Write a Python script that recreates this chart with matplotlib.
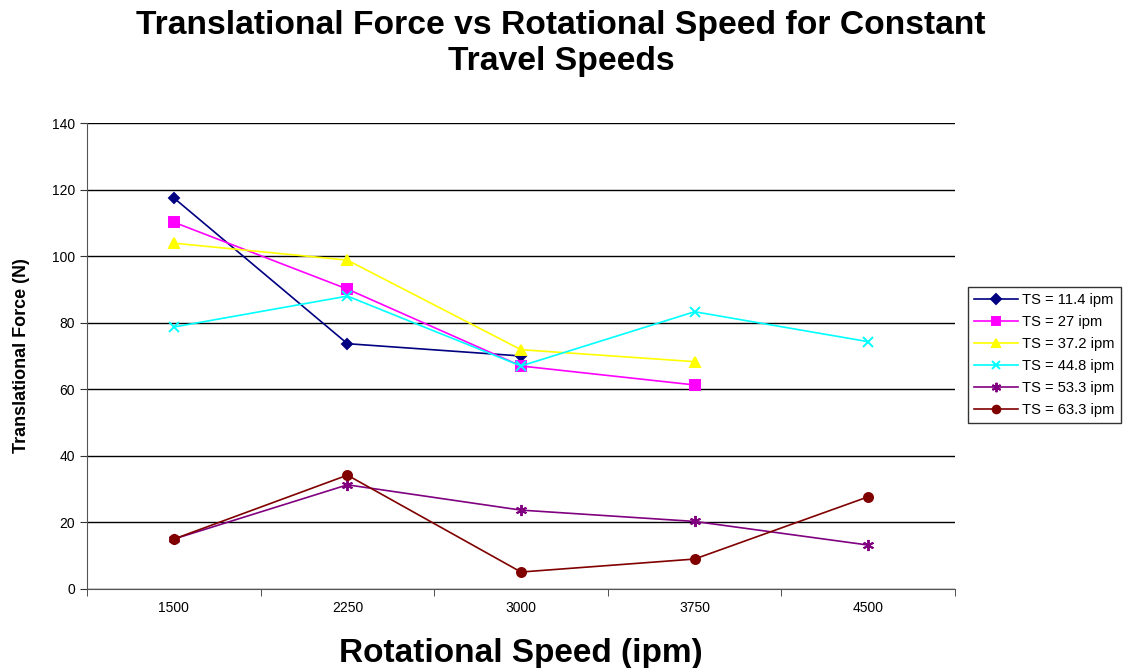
import numpy as np
import matplotlib
matplotlib.use("Agg")
from matplotlib import pyplot as plt

plt.rcParams['font.family'] = ['Liberation Sans', 'DejaVu Sans']

speeds = ["1500", "2250", "3000", "3750", "4500"]
ts_11_4 = [117.5, 73.7, 70.0]
ts_27 = [110.2, 90.1, 67.0, 61.3]
ts_37_2 = [103.9, 98.8, 71.9, 68.3]
ts_44_8 = [78.7, 88.0, 67.0, 83.3, 74.3]
ts_53_3 = [15.0, 31.3, 23.7, 20.3, 13.2]
ts_63_3 = [15.0, 34.2, 5.1, 9.0, 27.7]

series = [
    ("TS = 11.4 ipm", ts_11_4, "#000080", "D", 5.5),
    ("TS = 27 ipm", ts_27, "#FF00FF", "s", 6.5),
    ("TS = 37.2 ipm", ts_37_2, "#FFFF00", "^", 7),
    ("TS = 44.8 ipm", ts_44_8, "#00FFFF", "x", 7),
    ("TS = 53.3 ipm", ts_53_3, "#800080", (6, 2, 0), 8),
    ("TS = 63.3 ipm", ts_63_3, "#800000", "o", 6.5),
]

fig = plt.figure(figsize=(11.29, 6.68), dpi=100)
ax = fig.add_axes([87/1129, 1-589/668, 868/1129, 466/668])

for name, vals, col, mk, ms in series:
    x = np.arange(len(vals))
    ax.plot(x, vals, color=col, lw=1.2, marker=mk, ms=ms,
            mec=col, mfc=col, mew=1.4, label=name)

ax.set_xlim(-0.5, 4.5)
ax.set_ylim(0, 140)
ax.set_yticks(np.arange(0, 141, 20))
ax.set_xticks(np.arange(len(speeds)))
ax.set_xticklabels(speeds)
ax.set_xticks(np.arange(-0.5, 4.6, 1), minor=True)
ax.tick_params(axis='x', which='major', length=0, pad=9, labelsize=10)
ax.tick_params(axis='x', which='minor', length=5, direction='out', color='#333333')
ax.tick_params(axis='y', length=5, direction='out', labelsize=10, color='#333333')
ax.yaxis.grid(True, color='black', lw=1)
ax.set_axisbelow(True)
for s in ['top', 'right']:
    ax.spines[s].set_visible(False)
for s in ['left', 'bottom']:
    ax.spines[s].set_color('#555555')

ax.set_ylabel("Translational Force (N)", fontsize=13, fontweight='bold', labelpad=16)
ax.set_xlabel("Rotational Speed (ipm)", fontsize=24, fontweight='bold', labelpad=16)
fig.text(0.497, 0.985, "Translational Force vs Rotational Speed for Constant\nTravel Speeds",
         ha='center', va='top', fontsize=24.2, fontweight='bold', linespacing=1.2)

leg = ax.legend(loc='upper left', bbox_to_anchor=((968-87)/868, (589-287)/466),
                frameon=True, fancybox=False, edgecolor='black', fontsize=10.6,
                handlelength=3, borderpad=0.4, labelspacing=0.55, handletextpad=0.3,
                borderaxespad=0, markerscale=0.85)
leg.get_frame().set_linewidth(1)

fig.savefig("out.png", dpi=100)
